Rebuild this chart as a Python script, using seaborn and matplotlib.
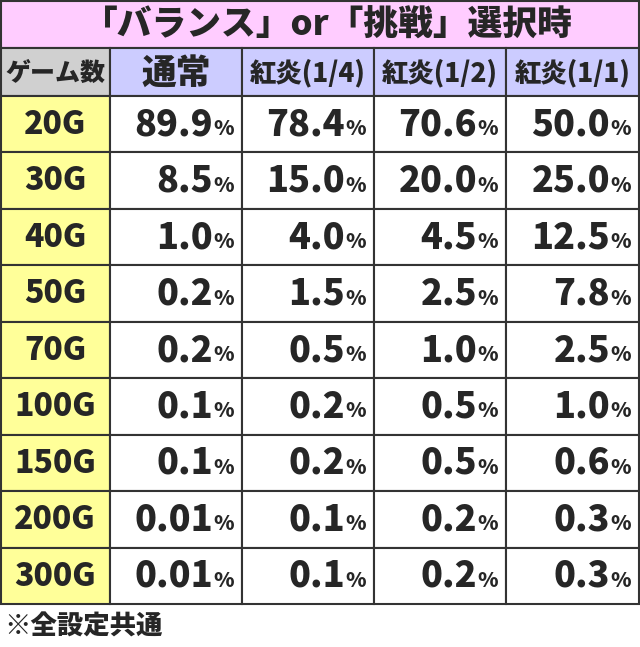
import matplotlib
matplotlib.use("Agg")
import matplotlib.pyplot as plt
import seaborn as sns
from matplotlib.patches import Rectangle

sns.set_theme(style="white")
FONT = "Noto Sans CJK JP"

title = "「バランス」or「挑戦」選択時"
corner = "ゲーム数"
columns = ["通常", "紅炎(1/4)", "紅炎(1/2)", "紅炎(1/1)"]
games = ["20G", "30G", "40G", "50G", "70G", "100G", "150G", "200G", "300G"]
normal = ["89.9", "8.5", "1.0", "0.2", "0.2", "0.1", "0.1", "0.01", "0.01"]
kouen_14 = ["78.4", "15.0", "4.0", "1.5", "0.5", "0.2", "0.2", "0.1", "0.1"]
kouen_12 = ["70.6", "20.0", "4.5", "2.5", "1.0", "0.5", "0.5", "0.2", "0.2"]
kouen_11 = ["50.0", "25.0", "12.5", "7.8", "2.5", "1.0", "0.6", "0.3", "0.3"]
note = "※全設定共通"
series = [normal, kouen_14, kouen_12, kouen_11]

W, H = 640, 647
fig = plt.figure(figsize=(W/100, H/100), dpi=100)
ax = fig.add_axes([0, 0, 1, 1])
ax.set_xlim(0, W); ax.set_ylim(H, 0); ax.axis("off")

xs = [0, 110, 242, 374, 506, 639]
y_title, y_head, y_data = 0, 48, 96
row_h = (604 - 96) / 9
WT = "black"

def cell(x0, y0, x1, y1, fc):
    ax.add_patch(Rectangle((x0, y0), x1-x0, y1-y0, fc=fc, ec="#333333", lw=1.5))

cell(0.5, 0.5, xs[-1], y_head, "#ffccff")
ax.text(W/2 + 8, 25, title, ha="center", va="center", fontsize=25, fontweight=WT, family=FONT)
cell(0.5, y_head, xs[1], y_data, "#d0d0d0")
ax.text(xs[1]/2, 73, corner, ha="center", va="center", fontsize=18, fontweight=WT, family=FONT)
for j, c in enumerate(columns):
    cell(xs[j+1], y_head, xs[j+2], y_data, "#ccccff")
    ax.text((xs[j+1]+xs[j+2])/2, 73, c, ha="center", va="center",
            fontsize=25 if j == 0 else 19, fontweight=WT, family=FONT)
for i, g in enumerate(games):
    y0 = y_data + i*row_h; y1 = y0 + row_h; yc = (y0+y1)/2
    cell(0.5, y0, xs[1], y1, "#ffff99")
    ax.text(xs[1]/2, yc, g, ha="center", va="center", fontsize=23, fontweight=WT, family=FONT)
    for j, s in enumerate(series):
        cell(xs[j+1], y0, xs[j+2], y1, "white")
        xr = xs[j+2] - 29
        ax.text(xr, yc, s[i], ha="right", va="center", fontsize=26, fontweight=WT, family=FONT)
        ax.text(xr, yc + 5, "%", ha="left", va="center", fontsize=15, fontweight=WT, family=FONT)
ax.text(4, 626, note, ha="left", va="center", fontsize=19, fontweight=WT, family=FONT)
fig.savefig("out.png", dpi=100)
